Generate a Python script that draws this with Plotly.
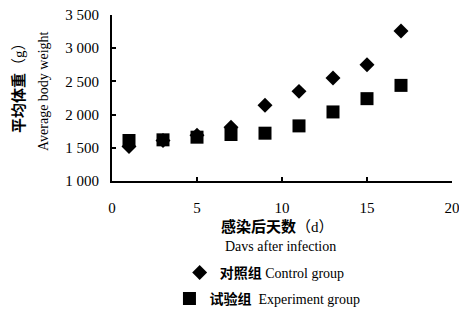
import plotly.graph_objects as go

days = [1, 3, 5, 7, 9, 11, 13, 15, 17]
control = [1520, 1610, 1690, 1810, 2140, 2350, 2550, 2750, 3260]
experiment = [1610, 1620, 1660, 1700, 1720, 1830, 2040, 2240, 2440]

x_ticks = [0, 5, 10, 15, 20]
y_ticks = [1000, 1500, 2000, 2500, 3000, 3500]
y_tick_labels = ["1 000", "1 500", "2 000", "2 500", "3 000", "3 500"]

serif = "Liberation Serif, Times New Roman, Noto Sans CJK SC, serif"

# page body has an 8px default margin, so the figure is 8px smaller
W, H = 459, 305
L, T, R, B = 104, 7, 15, 132
PW = W - L - R
PH = H - T - B


def px(x):  # reference pixel x -> paper
    return (x - 8 - L) / PW


def py(y):
    return (H - B - (y - 8)) / PH


fig = go.Figure()
fig.add_trace(go.Scatter(
    x=days, y=control, mode="markers", name="<b>对照组</b> Control group",
    marker=dict(symbol="diamond", size=11.5, color="black"), legend="legend", cliponaxis=False))
fig.add_trace(go.Scatter(
    x=days, y=experiment, mode="markers", name="<b>试验组</b>  Experiment group",
    marker=dict(symbol="square", size=13, color="black"), legend="legend2", cliponaxis=False))

fig.update_layout(
    width=W, height=H,
    margin=dict(l=L, r=R, t=T, b=B, autoexpand=False),
    plot_bgcolor="white", paper_bgcolor="white",
    font=dict(family=serif, size=14, color="black"),
    showlegend=True,
    legend=dict(x=px(112) + 0.199, xanchor="left", y=py(273), yanchor="middle",
                font=dict(family=serif, size=14), bgcolor="rgba(0,0,0,0)",
                itemwidth=30, tracegroupgap=0),
    legend2=dict(x=px(112) + 0.169, xanchor="left", y=py(299), yanchor="middle",
                 font=dict(family=serif, size=14), bgcolor="rgba(0,0,0,0)",
                 itemwidth=30, tracegroupgap=0),
    xaxis=dict(range=[0, 20], tickvals=x_ticks, showgrid=False, zeroline=False,
               showline=True, linecolor="black", linewidth=2,
               ticks="inside", ticklen=4, tickwidth=1.5, tickcolor="black",
               tickfont=dict(family=serif, size=15), ticklabelstandoff=12,
               ticklabeloverflow="allow", automargin=False),
    yaxis=dict(range=[1000, 3500], tickvals=y_ticks, ticktext=y_tick_labels,
               showgrid=False, zeroline=False,
               showline=True, linecolor="black", linewidth=2,
               ticks="inside", ticklen=4, tickwidth=1.5, tickcolor="black",
               tickfont=dict(family=serif, size=15), ticklabelstandoff=8,
               ticklabeloverflow="allow", automargin=False),
)

fig.add_annotation(text="<b>感染后天数</b>（d）", xref="paper", yref="paper",
                   x=px(277), y=py(227), showarrow=False,
                   xanchor="center", yanchor="middle",
                   font=dict(family=serif, size=15))
fig.add_annotation(text="Davs after infection", xref="paper", yref="paper",
                   x=px(280), y=py(246), showarrow=False,
                   xanchor="center", yanchor="middle",
                   font=dict(family=serif, size=14))
fig.add_annotation(text="<b>平均体重</b>（g）", xref="paper", yref="paper",
                   x=px(19), y=py(84), showarrow=False,
                   xanchor="center", yanchor="middle", textangle=-90,
                   font=dict(family=serif, size=15))
fig.add_annotation(text="Average body weight", xref="paper", yref="paper",
                   x=px(43), y=py(91), showarrow=False,
                   xanchor="center", yanchor="middle", textangle=-90,
                   font=dict(family=serif, size=14))

fig.write_html("out.html")
